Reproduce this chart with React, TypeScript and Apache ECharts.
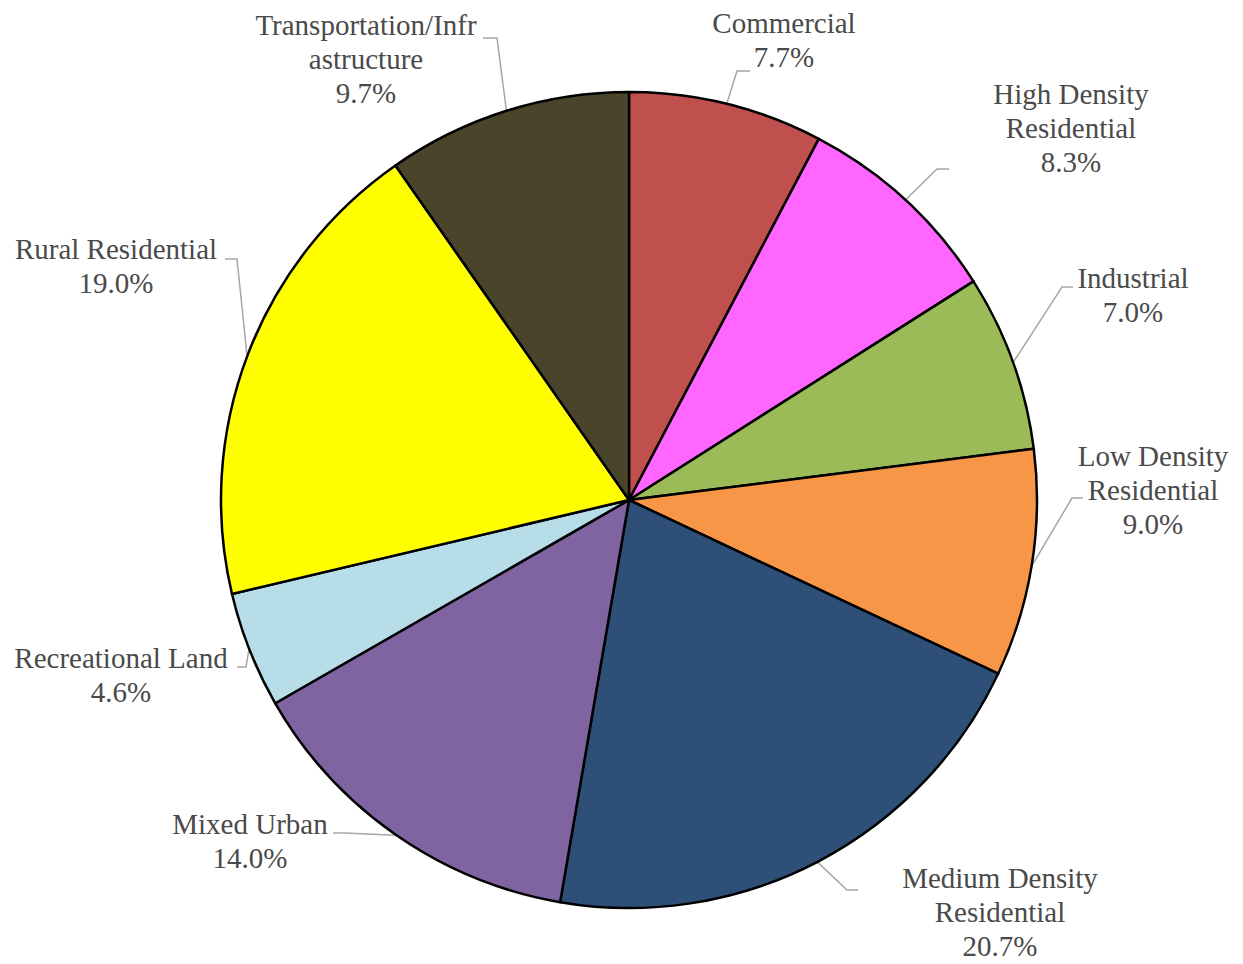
import React, { useEffect, useRef } from "react";
import * as echarts from "echarts";

const categories = [
  "Commercial",
  "High Density Residential",
  "Industrial",
  "Low Density Residential",
  "Medium Density Residential",
  "Mixed Urban",
  "Recreational Land",
  "Rural Residential",
  "Transportation/Infrastructure",
];

const displayNames = [
  "Commercial",
  "High Density\nResidential",
  "Industrial",
  "Low Density\nResidential",
  "Medium Density\nResidential",
  "Mixed Urban",
  "Recreational Land",
  "Rural Residential",
  "Transportation/Infr\nastructure",
];

const shares = [7.7, 8.3, 7.0, 9.0, 20.7, 14.0, 4.6, 19.0, 9.7];

const sliceColors = [
  "#C0504D",
  "#FF66FF",
  "#9BBB59",
  "#F79646",
  "#2E4F77",
  "#8064A2",
  "#B7DDE8",
  "#FFFF00",
  "#4A452A",
];

// label layout: [centerX, centerY, elbowX, elbowY, endX, endY]
const labelPlacement = [
  [784, 40, 737, 71, 750, 71],
  [1071, 128, 937, 169, 949, 169],
  [1133, 295, 1062, 287, 1073, 287],
  [1153, 490, 1072, 498, 1083, 498],
  [1000, 912, 847, 890, 858, 890],
  [250, 841, 345, 833, 333, 833],
  [121, 675, 246, 667, 237, 667],
  [116, 266, 237, 259, 225, 259],
  [366, 59, 497, 38, 483, 38],
];

const CX = 629;
const CY = 500;
const R = 408;

export default function App() {
  const ref = useRef<HTMLDivElement>(null);

  useEffect(() => {
    if (!ref.current) return;
    const chart = echarts.init(ref.current, undefined, { renderer: "svg" });
    const total = shares.reduce((a, b) => a + b, 0);
    const edgePoint = (i: number) => {
      let cum = 0;
      for (let k = 0; k < i; k++) cum += shares[k];
      const mid = ((cum + shares[i] / 2) / total) * Math.PI * 2;
      return [CX + (R + 1) * Math.sin(mid), CY - (R + 1) * Math.cos(mid)];
    };
    chart.setOption({
      animation: false,
      backgroundColor: "#FFFFFF",
      series: [
        {
          type: "pie",
          center: [CX, CY],
          radius: R,
          startAngle: 90,
          clockwise: true,
          avoidLabelOverlap: false,
          data: categories.map((c, i) => ({
            name: c,
            value: shares[i],
            itemStyle: { color: sliceColors[i] },
          })),
          itemStyle: { borderColor: "#000000", borderWidth: 2.5 },
          label: {
            show: true,
            position: "outside",
            formatter: (p: any) =>
              displayNames[p.dataIndex] + "\n" + shares[p.dataIndex].toFixed(1) + "%",
            fontFamily: "'Liberation Serif', 'Times New Roman', serif",
            fontSize: 29,
            lineHeight: 34,
            color: "#4A4A4A",
            align: "center",
          },
          labelLine: {
            show: true,
            length: 20,
            length2: 10,
            lineStyle: { color: "#A6A6A6", width: 1.5 },
          },
          labelLayout: (params: any) => {
            const i = params.dataIndex;
            const p = labelPlacement[i];
            return {
              x: p[0],
              y: p[1],
              align: "center",
              verticalAlign: "middle",
              labelLinePoints: [edgePoint(i), [p[2], p[3]], [p[4], p[5]]],
            };
          },
          emphasis: { disabled: true },
        },
      ],
    });
    return () => chart.dispose();
  }, []);

  return (
    <div
      ref={ref}
      style={{ position: "fixed", left: 0, top: 0, width: 1243, height: 964, background: "#FFFFFF" }}
    />
  );
}
